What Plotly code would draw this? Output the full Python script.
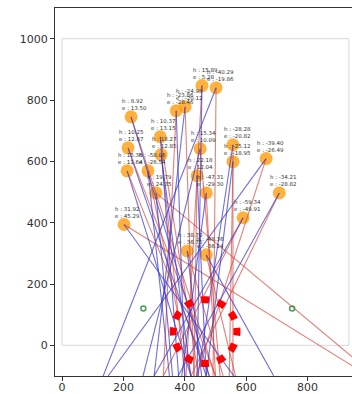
import plotly.graph_objects as go

# Observation points (map coordinates) and their h / e readings
pt_x = [202, 225, 215, 212, 280, 320, 323, 306, 372, 401, 456, 502,
        450, 557, 557, 665, 708, 590, 440, 470, 408, 470]
pt_y = [394, 745, 644, 569, 569, 680, 622, 497, 765, 778, 847, 840,
        641, 654, 599, 609, 497, 416, 553, 497, 308, 295]
h_vals = [31.92, 8.92, 10.25, 15.36, -58.06, 10.37, 18.27, 19.79, -23.86, -24.98, 15.89, -40.29,
          15.34, -28.28, -25.12, -39.40, -34.21, -59.34, 22.18, -47.31, 38.70, -48.36]
e_vals = [45.29, 13.50, 12.87, 11.64, -26.54, 13.15, 12.85, 24.35, -28.46, -20.12, 5.28, -19.86,
          10.09, -20.82, -18.95, -26.49, -28.82, -49.91, 12.04, -29.30, 36.75, -36.14]

# Where each ray reaches the bottom edge (y = -100)
ray_y_end = -100
blue_end_x = [560, 480, 470, 420, 350, 380, 420, 360, 400, 300, 440, 134,
              264, 443, 470, 150, 378, 300, 470, 390, 455, 690]
red_end_x = [1000, 500, 500, 480, 420, 445, 400, 1020, 330, 430, 404, 492,
             515, 557, 545, 437, 420, 330, 430, 500, 525, 565]

# Reference markers and target zone
ref_x = [265, 750]
ref_y = [120, 120]
target_x, target_y, target_r = 466, 45, 104

x_ticks = [0, 200, 400, 600, 800]
y_ticks = [0, 200, 400, 600, 800, 1000]


def ray_coords(xs, ys, ends):
    lx, ly = [], []
    for x0, y0, x1 in zip(xs, ys, ends):
        lx += [x0, x1, None]
        ly += [y0, ray_y_end, None]
    return lx, ly


fig = go.Figure()

fig.add_trace(go.Scatter(
    x=pt_x, y=pt_y, mode="markers",
    marker=dict(size=13, color="rgba(255,160,20,0.82)", line=dict(width=0)),
    hoverinfo="skip", showlegend=False))

rx, ry = ray_coords(pt_x, pt_y, red_end_x)
fig.add_trace(go.Scatter(
    x=rx, y=ry, mode="lines",
    line=dict(color="rgba(215,75,65,0.7)", width=1.1),
    hoverinfo="skip", showlegend=False))

bx, by = ray_coords(pt_x, pt_y, blue_end_x)
fig.add_trace(go.Scatter(
    x=bx, y=by, mode="lines",
    line=dict(color="rgba(55,55,205,0.72)", width=1.1),
    hoverinfo="skip", showlegend=False))

fig.add_trace(go.Scatter(
    x=ref_x, y=ref_y, mode="markers",
    marker=dict(symbol="circle-open", size=5, color="rgba(40,140,60,0.85)",
                line=dict(width=1.5)),
    hoverinfo="skip", showlegend=False))

# Field boundary
fig.add_shape(type="rect", x0=0, y0=0, x1=935, y1=1000,
              line=dict(color="rgba(200,200,200,0.7)", width=1), layer="below")

# Target zone: twelve square dashes, the first centred on the start of the path
fig.add_shape(type="circle",
              x0=target_x - target_r, x1=target_x + target_r,
              y0=target_y - target_r, y1=target_y + target_r,
              line=dict(color="#ff0000", width=7, dash="4px,8.7px,4px,0px"))

for x, y, h, e in zip(pt_x, pt_y, h_vals, e_vals):
    fig.add_annotation(
        x=x, y=y, xref="x", yref="y",
        text=f"h : {h:.2f}<br>e : {e:.2f}",
        showarrow=False, xanchor="left", yanchor="bottom", align="left",
        xshift=-10, yshift=5, borderpad=0,
        font=dict(family="DejaVu Sans", size=5.5, color="#333333"))

axis_font = dict(family="DejaVu Sans", size=11, color="#333333")
fig.update_layout(
    template="none",
    width=352, height=394,
    margin=dict(l=55, r=0, t=8, b=18),
    paper_bgcolor="white", plot_bgcolor="white",
    showlegend=False,
    xaxis=dict(range=[-23, 945], tickvals=x_ticks, ticks="outside", ticklen=4,
               tickcolor="#333333", showgrid=False, zeroline=False,
               showline=True, linecolor="#333333", linewidth=1.2, mirror=True,
               tickfont=axis_font, automargin=False, ticklabelstandoff=-3),
    yaxis=dict(range=[-100, 1100], tickvals=y_ticks, ticks="outside", ticklen=4,
               tickcolor="#333333", showgrid=False, zeroline=False,
               showline=True, linecolor="#333333", linewidth=1.2,
               tickfont=axis_font, automargin=False),
)

fig.write_html("out.html")
